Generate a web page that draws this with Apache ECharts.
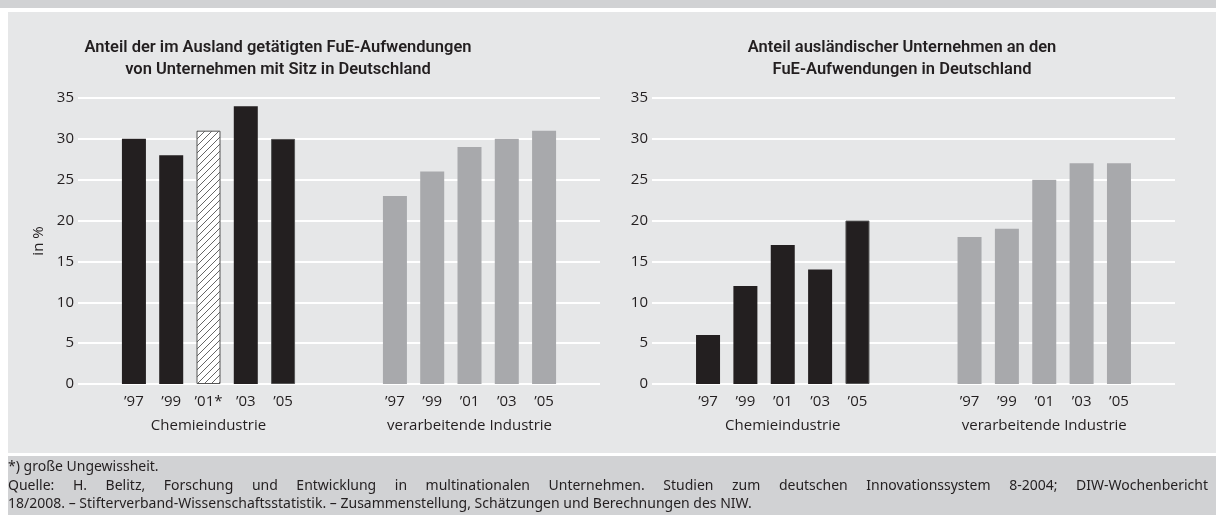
<!DOCTYPE html>
<html><head><meta charset="utf-8">
<script src="https://cdn.jsdelivr.net/npm/echarts@6/dist/echarts.min.js"></script>
<style>
html,body{margin:0;padding:0;background:#fff;}
#wrap{position:relative;width:1216px;height:515px;overflow:hidden;background:#fff;}
.band{position:absolute;}
#chart{position:absolute;left:0;top:0;width:1216px;height:515px;}
</style></head>
<body>
<div id="wrap">
  <div class="band" style="left:0;top:0;width:1216px;height:8px;background:#d1d2d4"></div>
  <div class="band" style="left:8px;top:12px;width:1208px;height:441px;background:#e6e7e8"></div>
  <div class="band" style="left:8px;top:456px;width:1208px;height:59px;background:#d1d2d4"></div>
  <div id="chart"></div>
</div>
<script>
// ---- data ----
const titleLeft = ['Anteil der im Ausland getätigten FuE-Aufwendungen', 'von Unternehmen mit Sitz in Deutschland'];
const titleRight = ['Anteil ausländischer Unternehmen an den', 'FuE-Aufwendungen in Deutschland'];
const groups = ['Chemieindustrie', 'verarbeitende Industrie'];
const yearsChemLeft = ['’97', '’99', '’01*', '’03', '’05'];
const years = ['’97', '’99', '’01', '’03', '’05'];
const leftChem = [30, 28, 31, 34, 30];
const leftVerarb = [23, 26, 29, 30, 31];
const rightChem = [6, 12, 17, 14, 20];
const rightVerarb = [18, 19, 25, 27, 27];
const uncertainIdx = 2; // '01* in left chart, Chemie
const yMin = 0, yMax = 35, yStep = 5;
const yName = 'in %';
const footNote = '*) große Ungewissheit.';
const source2 = 'Quelle: H. Belitz, Forschung und Entwicklung in multinationalen Unternehmen. Studien zum deutschen Innovationssystem 8-2004; DIW-Wochenbericht';
const source3 = '18/2008. – Stifterverband-Wissenschaftsstatistik. – Zusammenstellung, Schätzungen und Berechnungen des NIW.';

// ---- build slots: 1 empty, 5 chem, 2 empty, 5 verarb, 1 empty ----
function slotLabels(chemYears, verYears) {
  return [''].concat(chemYears, ['', ''], verYears, ['']);
}
function pad(chem, ver, which) {
  const out = new Array(14).fill('-');
  if (which === 'chem') chem.forEach((v, i) => out[1 + i] = v);
  else ver.forEach((v, i) => out[8 + i] = v);
  return out;
}
const groupSlots = new Array(14).fill('');
groupSlots[3] = groups[0];
groupSlots[10] = groups[1];

const TXT = '#231f20';
const BLACK = '#231f20';
const GREY = '#a8a9ac';
const FONT = "'Open Sans', 'Noto Sans', sans-serif";
const FS = 15;

// hatch pattern
const pc = document.createElement('canvas');
pc.width = 7; pc.height = 7;
const pctx = pc.getContext('2d');
pctx.fillStyle = '#fff'; pctx.fillRect(0, 0, 7, 7);
pctx.strokeStyle = '#555'; pctx.lineWidth = 0.9;
pctx.beginPath();
pctx.moveTo(-1, 8); pctx.lineTo(8, -1);
pctx.moveTo(-1, 1); pctx.lineTo(1, -1);
pctx.moveTo(6, 8); pctx.lineTo(8, 6);
pctx.stroke();
const hatch = { image: pc, repeat: 'repeat' };

const grids = [
  { left: 78, right: 616, top: 98, bottom: 131 },
  { left: 652, right: 41, top: 98, bottom: 131 }
];
const xAxes = [], yAxes = [], series = [];
[[yearsChemLeft, years, leftChem, leftVerarb], [years, years, rightChem, rightVerarb]].forEach((d, gi) => {
  const labels = slotLabels(d[0], d[1]);
  xAxes.push({
    type: 'category', gridIndex: gi, data: labels.map((_, i) => 's' + i),
    axisLine: { show: false }, axisTick: { show: false }, splitLine: { show: false },
    axisLabel: { interval: 0, margin: 10, color: TXT, fontSize: FS, fontFamily: FONT, formatter: (v, i) => labels[i] }
  });
  xAxes.push({
    type: 'category', gridIndex: gi, position: 'bottom', offset: 24, data: labels.map((_, i) => 'g' + i),
    axisLine: { show: false }, axisTick: { show: false }, splitLine: { show: false },
    axisLabel: { interval: 0, margin: 10, color: TXT, fontSize: FS, fontFamily: FONT, formatter: (v, i) => groupSlots[i] }
  });
  yAxes.push({
    type: 'value', gridIndex: gi, min: yMin, max: yMax, interval: yStep,
    name: gi === 0 ? yName : '', nameLocation: 'middle', nameGap: 32, nameRotate: 90,
    nameTextStyle: { color: TXT, fontSize: FS, fontFamily: FONT },
    axisLine: { show: false }, axisTick: { show: false },
    axisLabel: { color: TXT, fontSize: FS, fontFamily: FONT, margin: 4 },
    splitLine: { show: true, lineStyle: { color: '#ffffff', width: 2 } }
  });
  const chemData = pad(d[2], d[3], 'chem').map((v, i) => {
    if (gi === 0 && i === 1 + uncertainIdx) {
      return { value: v, itemStyle: { color: hatch, borderColor: '#555', borderWidth: 1 } };
    }
    if (i === 5) return { value: v, itemStyle: { borderColor: '#555', borderWidth: 1 } };
    return v;
  });
  series.push({
    type: 'bar', xAxisIndex: gi * 2, yAxisIndex: gi, data: chemData,
    barWidth: 24, barGap: '-100%', itemStyle: { color: BLACK }, silent: true
  });
  series.push({
    type: 'bar', xAxisIndex: gi * 2, yAxisIndex: gi, data: pad(d[2], d[3], 'ver'),
    barWidth: 24, barGap: '-100%', itemStyle: { color: GREY }, silent: true
  });
});

const chart = echarts.init(document.getElementById('chart'), null, { renderer: 'canvas' });

// justified source line
const FFOOT = "'Noto Sans', 'Open Sans', sans-serif";
const footSize = 14;
const mc = document.createElement('canvas').getContext('2d');
mc.font = footSize + 'px ' + FFOOT;
function justified(text, x0, x1, y) {
  const words = text.split(' ');
  const widths = words.map(w => mc.measureText(w).width);
  const sum = widths.reduce((a, b) => a + b, 0);
  const gap = (x1 - x0 - sum) / (words.length - 1);
  let x = x0; const els = [];
  words.forEach((w, i) => {
    els.push({ type: 'text', left: x, top: y, style: { text: w, fill: TXT, font: footSize + 'px ' + FFOOT } });
    x += widths[i] + gap;
  });
  return els;
}

const TFONT = "600 16.5px Roboto, sans-serif";
const graphic = [
  { type: 'text', x: 278, y: 37, style: { text: titleLeft.join('\n'), fill: TXT, font: TFONT, align: 'center', lineHeight: 22 } },
  { type: 'text', x: 902, y: 37, style: { text: titleRight.join('\n'), fill: TXT, font: TFONT, align: 'center', lineHeight: 22 } },
  { type: 'text', left: 8, top: 460, style: { text: footNote, fill: TXT, font: footSize + 'px ' + FFOOT } }
].concat(justified(source2, 8, 1208, 479), [
  { type: 'text', left: 8, top: 497, style: { text: source3, fill: TXT, font: footSize + 'px ' + FFOOT } }
]);

chart.setOption({
  backgroundColor: 'transparent',
  animation: false,
  textStyle: { fontFamily: FONT },
  grid: grids,
  xAxis: xAxes,
  yAxis: yAxes,
  series: series,
  graphic: graphic
});
</script>
</body></html>
